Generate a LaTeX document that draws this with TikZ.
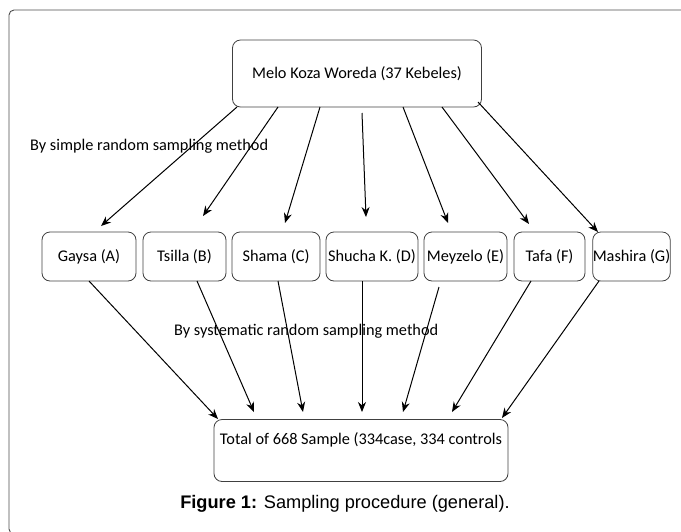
\documentclass[tikz,border=0pt]{standalone}
\usepackage{fontspec}
\setmainfont{Carlito}
\newfontfamily\capfont{Liberation Sans}
\usepackage{tikz}
\usetikzlibrary{arrows.meta,positioning}
\tikzset{
  panel frame/.style={
    draw=black!70,line width=0.9pt,rounded corners=5pt
  },
  woreda box/.style={
    draw=black!75,rounded corners=8pt,line width=0.8pt,
    inner sep=0pt
  },
  kebele box/.style={
    draw=black!75,rounded corners=8pt,line width=0.8pt,
    inner sep=0pt,minimum height=49pt
  },
  sample box/.style={
    draw=black!75,rounded corners=8pt,line width=0.8pt,
    inner xsep=0pt,inner ysep=4pt,text height=21pt,text depth=33pt
  },
  method label/.style={
    anchor=base west,inner sep=0pt
  },
  pick edge/.style={
    line width=1pt,
    -{Stealth[length=10pt,width=8pt]}
  }
}

\begin{document}
\begin{tikzpicture}[x=1pt,y=-1pt,font=\fontsize{16.3}{18}\selectfont]
  \useasboundingbox (0,0) rectangle (681,531);
  \begin{scope}
    \clip (0,0) rectangle (681,531);
    \draw[panel frame] (9,10) rectangle (700,534);
  \end{scope}

  % woreda
  \node[woreda box,minimum width=249pt,minimum height=67pt]
    (woreda) at (357,73.5) {Melo Koza Woreda (37 Kebeles)};

  % kebeles
  \foreach \n/\cx/\w/\t in {A/89/94/Gaysa (A),B/184.5/83/Tsilla (B),
      C/276/88/Shama (C),D/372/92/Shucha K. (D),E/465.5/83/Meyzelo (E),
      F/549.5/71/Tafa (F),G/631.5/77/Mashira (G)}
    \node[kebele box,minimum width=\w pt] (\n) at (\cx,256.5) {\t};

  % samples
  \node[sample box,minimum width=294pt] (total) at (361,450.5)
    {Total of 668 Sample (334case, 334 controls};

  \node[method label] (simple) at (30,150) {By simple random sampling method};
  \node[method label] (system) at (174,335) {By systematic random sampling method};

  % woreda -> kebeles
  \foreach \n/\sx/\sy/\ex/\ey in {A/237/107/101/226,B/278/107/203/216,
      C/320/107/285/223,D/362/113/366/217,E/403/107/448/223,
      F/442/107/529/224,G/478/102/598/232} {
    \coordinate (w\n) at (\sx,\sy);
    \coordinate (k\n) at (\ex,\ey);
    \draw[pick edge] (w\n) -- (k\n);
  }

  % kebeles -> total
  \foreach \n/\sx/\sy/\ex/\ey in {A/89/281/218/419,B/197/281/254/412,
      C/278/281/303/412,D/362/281/362/412,E/439/287/403/412,
      F/531/281/452/412,G/599/281/502/418} {
    \coordinate (b\n) at (\sx,\sy);
    \coordinate (t\n) at (\ex,\ey);
    \draw[pick edge] (b\n) -- (t\n);
  }

  \node (caption) at (345,504)
    {\capfont\fontsize{18.2}{21}\selectfont\textbf{Figure 1:} Sampling procedure (general).};
\end{tikzpicture}
\end{document}
